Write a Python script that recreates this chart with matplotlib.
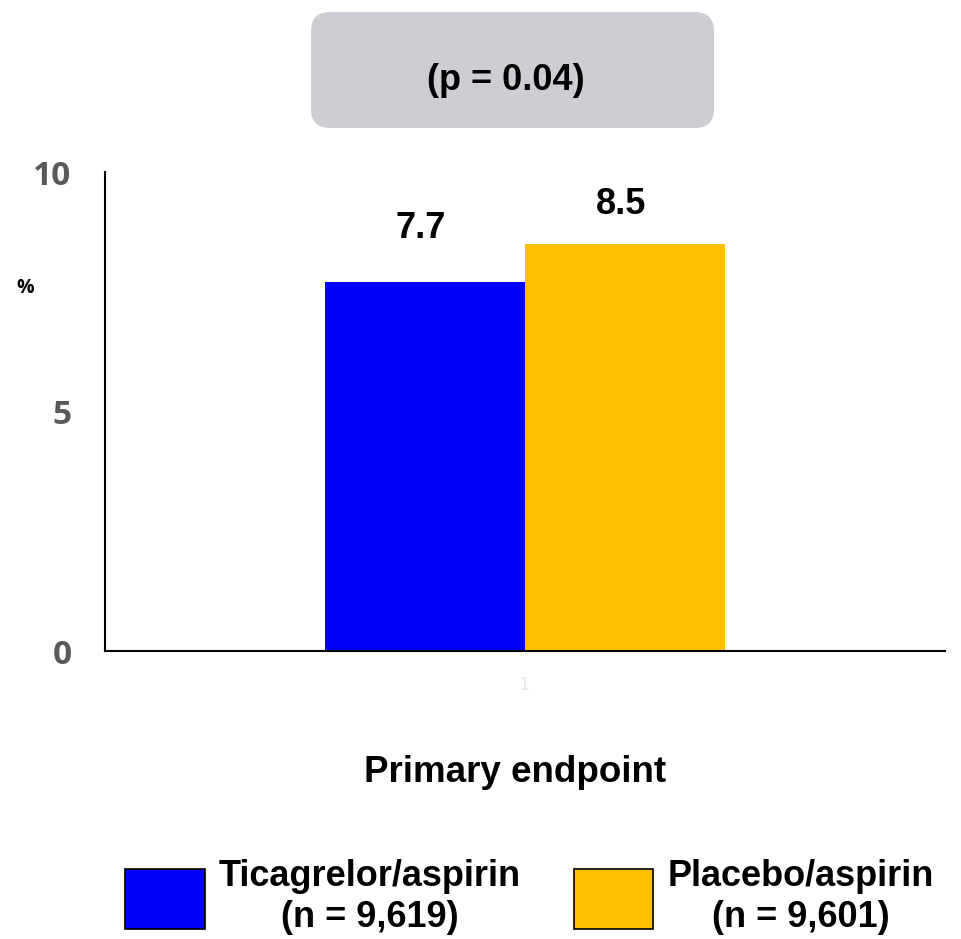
import matplotlib
matplotlib.use("Agg")
import matplotlib.pyplot as plt
from matplotlib.patches import FancyBboxPatch

categories = ["1"]
series_names = ["Ticagrelor/aspirin\n(n = 9,619)", "Placebo/aspirin\n(n = 9,601)"]
series_values = [[7.7], [8.5]]
series_colors = ["#0000FF", "#FFC000"]
yticks = [0, 5, 10]
xlabel = "Primary endpoint"
ylabel = "%"
pvalue_text = "(p = 0.04)"

# style: vertical offset (points) of value labels above bars
label_offsets = [39, 28]

fig = plt.figure(figsize=(9.61, 9.39), dpi=100)
ax = fig.add_axes([0.1093, 0.3067, 0.8741, 0.5101])

width = 0.238
xs = list(range(len(categories)))
bars = []
for i, (name, vals, col) in enumerate(zip(series_names, series_values, series_colors)):
    offs = (i - 0.5) * width
    b = ax.bar([x + offs for x in xs], vals, width=width, color=col, label=name)
    bars.append(b)
    for x, v in zip(xs, vals):
        ax.annotate(f"{v}", (x + offs, v), xytext=(-3, label_offsets[i]),
                    textcoords="offset points", ha="center", va="center",
                    fontsize=26, fontweight="bold", family="Liberation Sans",
                    color="black")

ax.set_xlim(-0.5, 0.5)
ax.set_ylim(0, 10)
ax.set_xticks(xs)
ax.set_xticklabels(categories, color="#e6e6e6", fontsize=13)
ax.set_yticks(yticks)
ax.set_yticklabels([str(t) for t in yticks], fontsize=24, fontweight="bold",
                   family="Open Sans", color="#595959")
ax.tick_params(axis="both", length=0)
ax.tick_params(axis="y", pad=24)
ax.tick_params(axis="x", pad=18)
for s in ["top", "right"]:
    ax.spines[s].set_visible(False)
ax.spines["left"].set_linewidth(1.5)
ax.spines["bottom"].set_linewidth(1.5)

fig.text(0.026, (939 - 288) / 939, ylabel, fontsize=14, fontweight="bold",
         family="Open Sans", ha="center", va="center")
fig.text(515 / 961, (939 - 772) / 939, xlabel, fontsize=26.5, fontweight="bold",
         family="Liberation Sans", ha="center", va="center")

# p-value box
box = FancyBboxPatch((311 / 961, (939 - 128) / 939), (714 - 311) / 961, (128 - 12) / 939,
                     boxstyle="round,pad=0,rounding_size=0.02", transform=fig.transFigure,
                     facecolor="#CDCED3", edgecolor="none")
fig.patches.append(box)
fig.text(506 / 961, (939 - 80) / 939, pvalue_text, fontsize=26, fontweight="bold",
         family="Liberation Sans", ha="center", va="center")

leg = fig.legend(handles=[b for b in bars], labels=series_names, loc="center",
                 bbox_to_anchor=(0.551, (939 - 897) / 939), ncol=2, frameon=False,
                 prop={"family": "Liberation Sans", "weight": "bold", "size": 26},
                 handlelength=2.2, handleheight=2.2, handletextpad=0.4,
                 columnspacing=1.45, labelspacing=0.2)
for t in leg.get_texts():
    t.set_multialignment("center")
    t.set_linespacing(1.22)
for h in leg.legend_handles:
    h.set_edgecolor("black")
    h.set_linewidth(1.2)

fig.savefig("out.png", dpi=100)
